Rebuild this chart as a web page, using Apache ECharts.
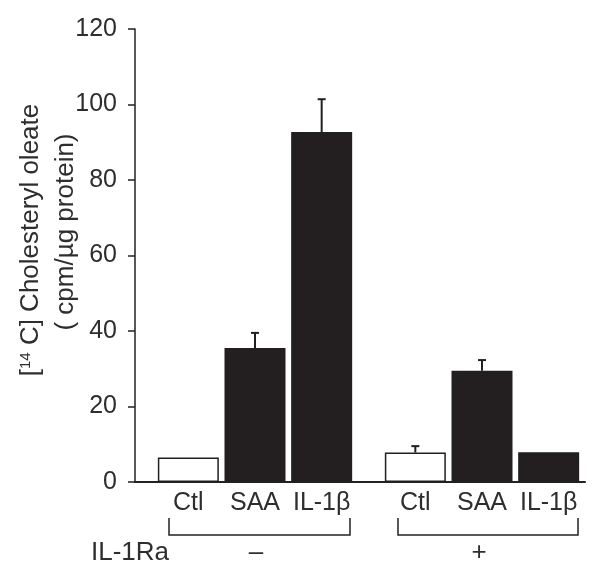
<!DOCTYPE html>
<html>
<head>
<meta charset="utf-8">
<script src="https://cdn.jsdelivr.net/npm/echarts@6/dist/echarts.min.js"></script>
<style>html,body{margin:0;padding:0;background:#fff}#c{width:600px;height:575px}</style>
</head>
<body>
<div id="c"></div>
<script>
// ---- data ----
const categories = ['Ctl', 'SAA', 'IL-1β'];
const minusMeans = [6.5, 35.5, 92.7];
const minusErrs = [0, 4.0, 8.7];
const plusMeans = [7.8, 29.5, 7.9];
const plusErrs = [1.7, 2.8, 0];
const groupLabels = ['–', '+'];
const rowLabel = 'IL-1Ra';
const yMin = 0, yMax = 120, yInterval = 20;
const yTitle1 = ['[', '14', ' C] Cholesteryl oleate'];
const yTitle2 = '( cpm/µg protein)';

// ---- style ----
const FONT = '"Liberation Sans", Arial, Helvetica, sans-serif';
const TXT = '#2e2e2e';
const INK = '#231f20';
const barFill = ['#ffffff', INK, INK];

const gTop = 29, gH = 453;
const g1 = {left: 155, width: 200};
const g2 = {left: 382, width: 200};

const chart = echarts.init(document.getElementById('c'), null, {renderer: 'canvas'});

function barData(vals) {
  return vals.map((v, i) => ({
    value: v,
    itemStyle: {color: barFill[i], borderColor: INK, borderWidth: 1.5}
  }));
}
function errData(vals, errs) {
  return vals.map((v, i) => [i, v, errs[i]]);
}
function errRender(params, api) {
  const err = api.value(2);
  if (!err) return null;
  const x = api.value(0), v = api.value(1);
  const p0 = api.coord([x, v]);
  const p1 = api.coord([x, v + err]);
  return {
    type: 'group',
    children: [
      {type: 'line', shape: {x1: p0[0], y1: p0[1], x2: p1[0], y2: p1[1]}, style: {stroke: INK, lineWidth: 2}},
      {type: 'line', shape: {x1: p1[0] - 4, y1: p1[1], x2: p1[0] + 4, y2: p1[1]}, style: {stroke: INK, lineWidth: 2}}
    ]
  };
}

const catAxis = (gi) => ({
  gridIndex: gi, type: 'category', data: categories,
  axisLine: {show: false}, axisTick: {show: false},
  axisLabel: {color: TXT, fontSize: 25, fontFamily: FONT, margin: 9, interval: 0}
});
const hiddenY = (gi) => ({gridIndex: gi, type: 'value', min: yMin, max: yMax, interval: yInterval, show: false});

function bracket(x1, x2) {
  return {
    type: 'polyline', silent: true,
    shape: {points: [[x1, 518], [x1, 535], [x2, 535], [x2, 518]]},
    style: {stroke: '#222', lineWidth: 1.5, fill: null}
  };
}

chart.setOption({
  animation: false,
  grid: [
    {left: 135, width: 450, top: gTop, height: gH},
    {left: g1.left, width: g1.width, top: gTop, height: gH},
    {left: g2.left, width: g2.width, top: gTop, height: gH}
  ],
  xAxis: [
    {gridIndex: 0, type: 'value', min: 0, max: 1, axisLine: {show: true, lineStyle: {color: '#222', width: 2}},
     axisTick: {show: false}, axisLabel: {show: false}, splitLine: {show: false}},
    catAxis(1), catAxis(2)
  ],
  yAxis: [
    {gridIndex: 0, type: 'value', min: yMin, max: yMax, interval: yInterval,
     axisLine: {show: true, lineStyle: {color: '#222', width: 1.5}},
     axisTick: {show: true, length: 7, lineStyle: {color: '#222', width: 1.5}},
     axisLabel: {color: TXT, fontSize: 25, fontFamily: FONT, margin: 18},
     splitLine: {show: false}},
    hiddenY(1), hiddenY(2)
  ],
  series: [
    {type: 'bar', xAxisIndex: 1, yAxisIndex: 1, barWidth: 61, data: barData(minusMeans)},
    {type: 'bar', xAxisIndex: 2, yAxisIndex: 2, barWidth: 61, data: barData(plusMeans)},
    {type: 'custom', xAxisIndex: 1, yAxisIndex: 1, renderItem: errRender, data: errData(minusMeans, minusErrs), z: 5},
    {type: 'custom', xAxisIndex: 2, yAxisIndex: 2, renderItem: errRender, data: errData(plusMeans, plusErrs), z: 5}
  ],
  graphic: [
    {type: 'text', x: 31, y: 240, rotation: Math.PI / 2,
     style: {
       text: '[{s|' + yTitle1[1] + '}' + yTitle1[2], fill: TXT, font: '26px ' + FONT,
       align: 'center', verticalAlign: 'middle',
       rich: {s: {fontSize: 15, fontFamily: FONT, fill: TXT, verticalAlign: 'top', padding: [0, 0, 11, 0]}}
     }},
    {type: 'text', x: 66, y: 232, rotation: Math.PI / 2,
     style: {text: yTitle2, fill: TXT, font: '26px ' + FONT, align: 'center', verticalAlign: 'middle'}},
    bracket(169, 350),
    bracket(398, 578),
    {type: 'text', x: 169, y: 553, style: {text: rowLabel, fill: TXT, font: '26px ' + FONT, align: 'right', verticalAlign: 'middle'}},
    {type: 'text', x: 256, y: 553, style: {text: groupLabels[0], fill: TXT, font: '26px ' + FONT, align: 'center', verticalAlign: 'middle'}},
    {type: 'text', x: 479, y: 553, style: {text: groupLabels[1], fill: TXT, font: '26px ' + FONT, align: 'center', verticalAlign: 'middle'}}
  ]
});
</script>
</body>
</html>
